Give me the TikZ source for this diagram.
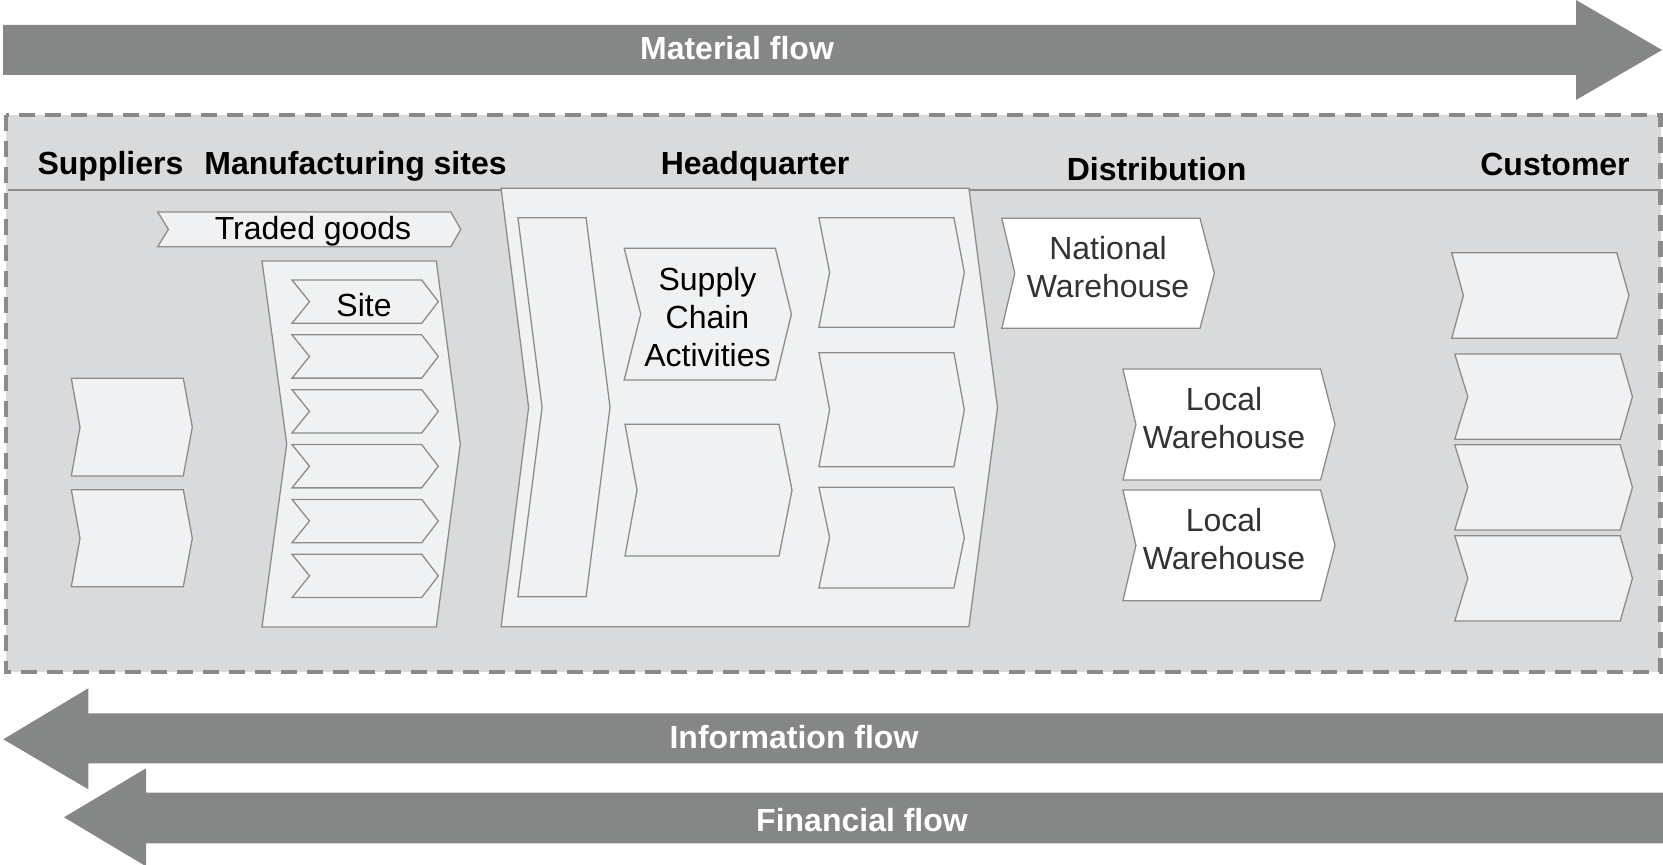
\documentclass[tikz,border=0pt]{standalone}
\usepackage{fontspec}
\setmainfont{Liberation Sans}
\definecolor{arrowgray}{RGB}{133,134,134}
\definecolor{panelgray}{RGB}{217,218,220}
\definecolor{chevfill}{RGB}{240,241,243}
\definecolor{chevline}{RGB}{140,140,140}
\definecolor{dashgray}{RGB}{138,138,138}
\definecolor{whtext}{RGB}{51,51,51}
\newcommand{\chevshape}[7][]{%
  \draw[chev,#1] (#2,#4) -- (#3,#4) -- ({#3+#7},{(#4+#5)/2}) -- (#3,#5) -- (#2,#5) -- ({#2+#6},{(#4+#5)/2}) -- cycle;}
\begin{document}
\begin{tikzpicture}[x=0.5pt,y=-0.5pt,
  chev/.style={draw=chevline,fill=chevfill,line width=0.65pt,line join=miter},
  flowarrow/.style={fill=arrowgray,draw=none},
  head/.style={font=\fontsize{16}{19}\selectfont\bfseries,text=black,inner sep=0pt},
  flowlbl/.style={font=\fontsize{16}{19}\selectfont\bfseries,text=white,inner sep=0pt},
  lbl/.style={font=\fontsize{16}{19}\selectfont,text=black,inner sep=0pt,align=center},
  whlbl/.style={font=\fontsize{16}{19}\selectfont,text=whtext,inner sep=0pt,align=center}]
\useasboundingbox (0,0) rectangle (1663,865);
% Material flow arrow
\fill[flowarrow] (3,25) -- (1576,25) -- (1576,0) -- (1662,50) -- (1576,100) -- (1576,75) -- (3,75) -- cycle;
\node[flowlbl] (material) at (737,48) {Material flow};
% Panel
\draw[fill=panelgray,draw=dashgray,line width=2.4pt,dash pattern=on 8pt off 5pt] (6,115) rectangle (1660.5,672);
\coordinate (divL) at (8,190);
\coordinate (divR) at (1658.5,190);
\draw[chevline,line width=0.7pt] (divL) -- (divR);
% Headers
\node[head] (suppliers) at (110.5,166) {Suppliers};
\node[head] (manuf) at (355.5,166) {Manufacturing sites};
\node[head] (hq) at (755,166) {Headquarter};
\node[head] (distr) at (1156.5,169) {Distribution};
\node[head] (cust) at (1555,164) {Customer};
% Suppliers
\chevshape{71.3}{183.3}{378.3}{476}{8.7}{9}
\chevshape{71.3}{183.3}{489.7}{586.7}{8.7}{9}
% Traded goods
\chevshape{157.7}{450.8}{212}{246.7}{10.7}{10}
\node[lbl] (traded) at (313,231) {Traded goods};
% Manufacturing sites
\chevshape{262}{436.3}{261}{627}{24.7}{24}
\foreach \t in {280,334.85,389.7,444.55,499.4,554.25}{
  \chevshape{292}{421.7}{\t}{\t+43.3}{17.5}{16.6}
}
\node[lbl] (site) at (364,305) {Site};
% Headquarter
\chevshape{501.1}{968.9}{188.3}{626.7}{27.5}{28.6}
\chevshape{517.9}{586.1}{217.7}{596.7}{24.2}{23.9}
\chevshape{624.2}{775.4}{248.3}{380}{16.5}{16}
\node[lbl] (sca) at (707.5,317) {Supply\\Chain\\Activities};
\chevshape{625}{779}{424.3}{556}{12}{13}
\chevshape{818.9}{953.9}{217.7}{327.3}{10.7}{10.4}
\chevshape{818.9}{953.9}{352.7}{466.7}{10.7}{10.4}
\chevshape{818.9}{953.9}{487.3}{588}{10.7}{10.4}
% Distribution
\chevshape[fill=white]{1001.8}{1200}{218.3}{328.3}{13}{14.3}
\node[whlbl] (natwh) at (1108,267) {National\\Warehouse};
\chevshape[fill=white]{1122.9}{1320.6}{369}{480}{13}{14.4}
\node[whlbl] (locwh1) at (1224,418) {Local\\Warehouse};
\chevshape[fill=white]{1122.9}{1320.6}{490}{600.7}{13}{14.4}
\node[whlbl] (locwh2) at (1224,539) {Local\\Warehouse};
% Customer
\chevshape{1451.7}{1616.7}{252.7}{338.3}{11.7}{12.2}
\chevshape{1454.7}{1620.2}{354}{439.3}{13.1}{12.2}
\chevshape{1454.7}{1620.2}{444.7}{530}{13.1}{12.2}
\chevshape{1454.7}{1620.2}{535.7}{621}{13.1}{12.2}
% Information flow arrow
\fill[flowarrow] (1663,713.3) -- (88.3,713.3) -- (88.3,688.3) -- (3.3,739.3) -- (88.3,789.3) -- (88.3,763.3) -- (1663,763.3) -- cycle;
\node[flowlbl] (info) at (794,737) {Information flow};
% Financial flow arrow
\fill[flowarrow] (1663,792.7) -- (146,792.7) -- (146,768.3) -- (64,817.3) -- (146,866.3) -- (146,843.3) -- (1663,843.3) -- cycle;
\node[flowlbl] (fin) at (862,820) {Financial flow};
\end{tikzpicture}
\end{document}
